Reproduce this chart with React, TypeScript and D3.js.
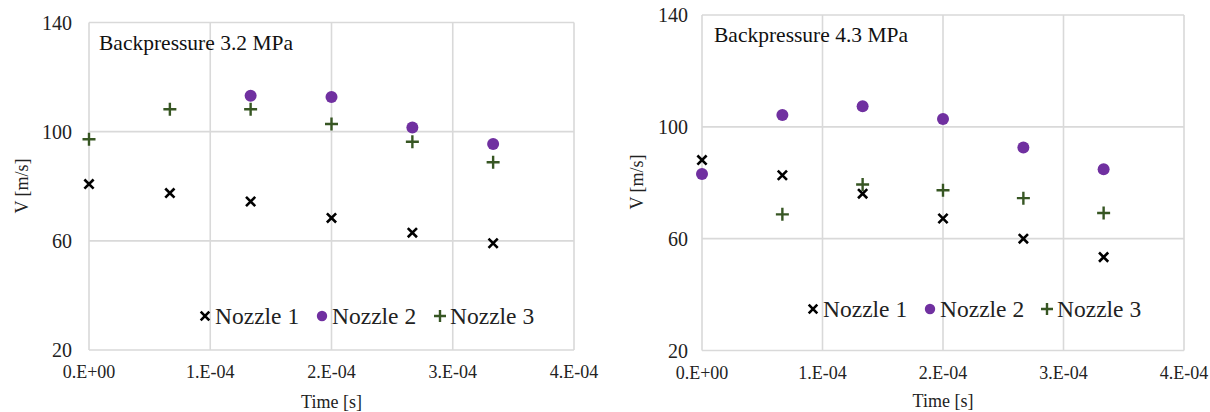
import React from "react";
import * as d3 from "d3";

const times = [0, 6.67e-5, 1.333e-4, 2e-4, 2.667e-4, 3.333e-4];
const xTicks = [0, 1e-4, 2e-4, 3e-4, 4e-4];
const xTickLabels = ["0.E+00", "1.E-04", "2.E-04", "3.E-04", "4.E-04"];
const yTicks = [20, 60, 100, 140];

// Backpressure 3.2 MPa
const left1: (number | null)[] = [80.8, 77.5, 74.4, 68.4, 63.0, 59.1];
const left2: (number | null)[] = [null, null, 113.2, 112.7, 101.5, 95.5];
const left3: (number | null)[] = [97.2, 108.2, 108.2, 102.8, 96.3, 88.8];

// Backpressure 4.3 MPa
const right1: (number | null)[] = [88.1, 82.7, 76.1, 67.2, 60.0, 53.4];
const right2: (number | null)[] = [83.1, 104.2, 107.4, 102.8, 92.6, 84.8];
const right3: (number | null)[] = [null, 68.7, 79.4, 77.3, 74.5, 69.2];

const seriesNames = ["Nozzle 1", "Nozzle 2", "Nozzle 3"];

const GRID = "#d9d9d9";
const PURPLE = "#7030a0";
const GREEN = "#375623";
const FONT = "'Liberation Serif', 'Times New Roman', serif";

function Cross({ x, y, s }: { x: number; y: number; s: number }) {
  return (
    <path
      d={`M${x - s},${y - s}L${x + s},${y + s}M${x - s},${y + s}L${x + s},${y - s}`}
      stroke="#000"
      strokeWidth={2.6}
    />
  );
}
function Plus({ x, y, s }: { x: number; y: number; s: number }) {
  return (
    <path
      d={`M${x - s},${y}L${x + s},${y}M${x},${y - s}L${x},${y + s}`}
      stroke={GREEN}
      strokeWidth={2.4}
    />
  );
}

type ChartProps = {
  x0: number;
  x1: number;
  yTop: number;
  yBot: number;
  title: string;
  titlePos: [number, number];
  s1: (number | null)[];
  s2: (number | null)[];
  s3: (number | null)[];
  tickRight: number;
  yLabelX: number;
  yLabelY: number;
  xLabelY: number;
  legendY: number;
  legendX: [number, number, number];
};

function Chart(p: ChartProps) {
  const x = d3.scaleLinear().domain([0, 4e-4]).range([p.x0, p.x1]);
  const y = d3.scaleLinear().domain([20, 140]).range([p.yBot, p.yTop]);
  return (
    <g fontFamily={FONT}>
      {yTicks.map((t) => (
        <line key={"gy" + t} x1={p.x0} x2={p.x1} y1={y(t)} y2={y(t)} stroke={GRID} strokeWidth={1.6} />
      ))}
      {xTicks.map((t) => (
        <line key={"gx" + t} x1={x(t)} x2={x(t)} y1={p.yTop} y2={p.yBot} stroke={GRID} strokeWidth={1.6} />
      ))}
      {yTicks.map((t) => (
        <text key={"ty" + t} x={p.tickRight} y={y(t)} dy="0.35em" textAnchor="end" fontSize={20} fill="#222">
          {t}
        </text>
      ))}
      {xTicks.map((t, i) => (
        <text key={"tx" + t} x={x(t)} y={p.yBot + 22} dy="0.35em" textAnchor="middle" fontSize={18} fill="#222">
          {xTickLabels[i]}
        </text>
      ))}
      <text x={(p.x0 + p.x1) / 2} y={p.xLabelY} dy="0.35em" textAnchor="middle" fontSize={18} fill="#222">
        Time [s]
      </text>
      <text
        transform={`translate(${p.yLabelX},${p.yLabelY}) rotate(-90)`}
        dy="0.35em"
        textAnchor="middle"
        fontSize={18}
        fill="#222"
      >
        V [m/s]
      </text>
      <text x={p.titlePos[0]} y={p.titlePos[1]} fontSize={21.5} fill="#111">
        {p.title}
      </text>
      {p.s3.map((v, i) => (v == null ? null : <Plus key={"p" + i} x={x(times[i])} y={y(v)} s={6.5} />))}
      {p.s1.map((v, i) => (v == null ? null : <Cross key={"c" + i} x={x(times[i])} y={y(v)} s={4.6} />))}
      {p.s2.map((v, i) => (v == null ? null : <circle key={"o" + i} cx={x(times[i])} cy={y(v)} r={6} fill={PURPLE} />))}
      {/* legend */}
      <Cross x={p.legendX[0]} y={p.legendY} s={4.3} />
      <circle cx={p.legendX[1]} cy={p.legendY} r={5.2} fill={PURPLE} />
      <Plus x={p.legendX[2]} y={p.legendY} s={6} />
      {seriesNames.map((n, i) => (
        <text key={n} x={p.legendX[i] + 10} y={p.legendY} dy="0.35em" fontSize={23.5} fill="#222">
          {n}
        </text>
      ))}
    </g>
  );
}

export default function App() {
  return (
    <svg width={1210} height={412} style={{ position: "absolute", left: 0, top: 0, background: "#fff" }}>
      <rect width={1210} height={412} fill="#fff" />
      <Chart
        x0={89}
        x1={574}
        yTop={22.5}
        yBot={350}
        title="Backpressure 3.2 MPa"
        titlePos={[99, 50]}
        s1={left1}
        s2={left2}
        s3={left3}
        tickRight={72}
        yLabelX={22}
        yLabelY={186}
        xLabelY={402}
        legendY={316}
        legendX={[205, 322, 440]}
      />
      <Chart
        x0={702}
        x1={1184}
        yTop={15}
        yBot={350.5}
        title="Backpressure 4.3 MPa"
        titlePos={[714, 42]}
        s1={right1}
        s2={right2}
        s3={right3}
        tickRight={688}
        yLabelX={637}
        yLabelY={182}
        xLabelY={401}
        legendY={309}
        legendX={[813, 930, 1047]}
      />
    </svg>
  );
}
